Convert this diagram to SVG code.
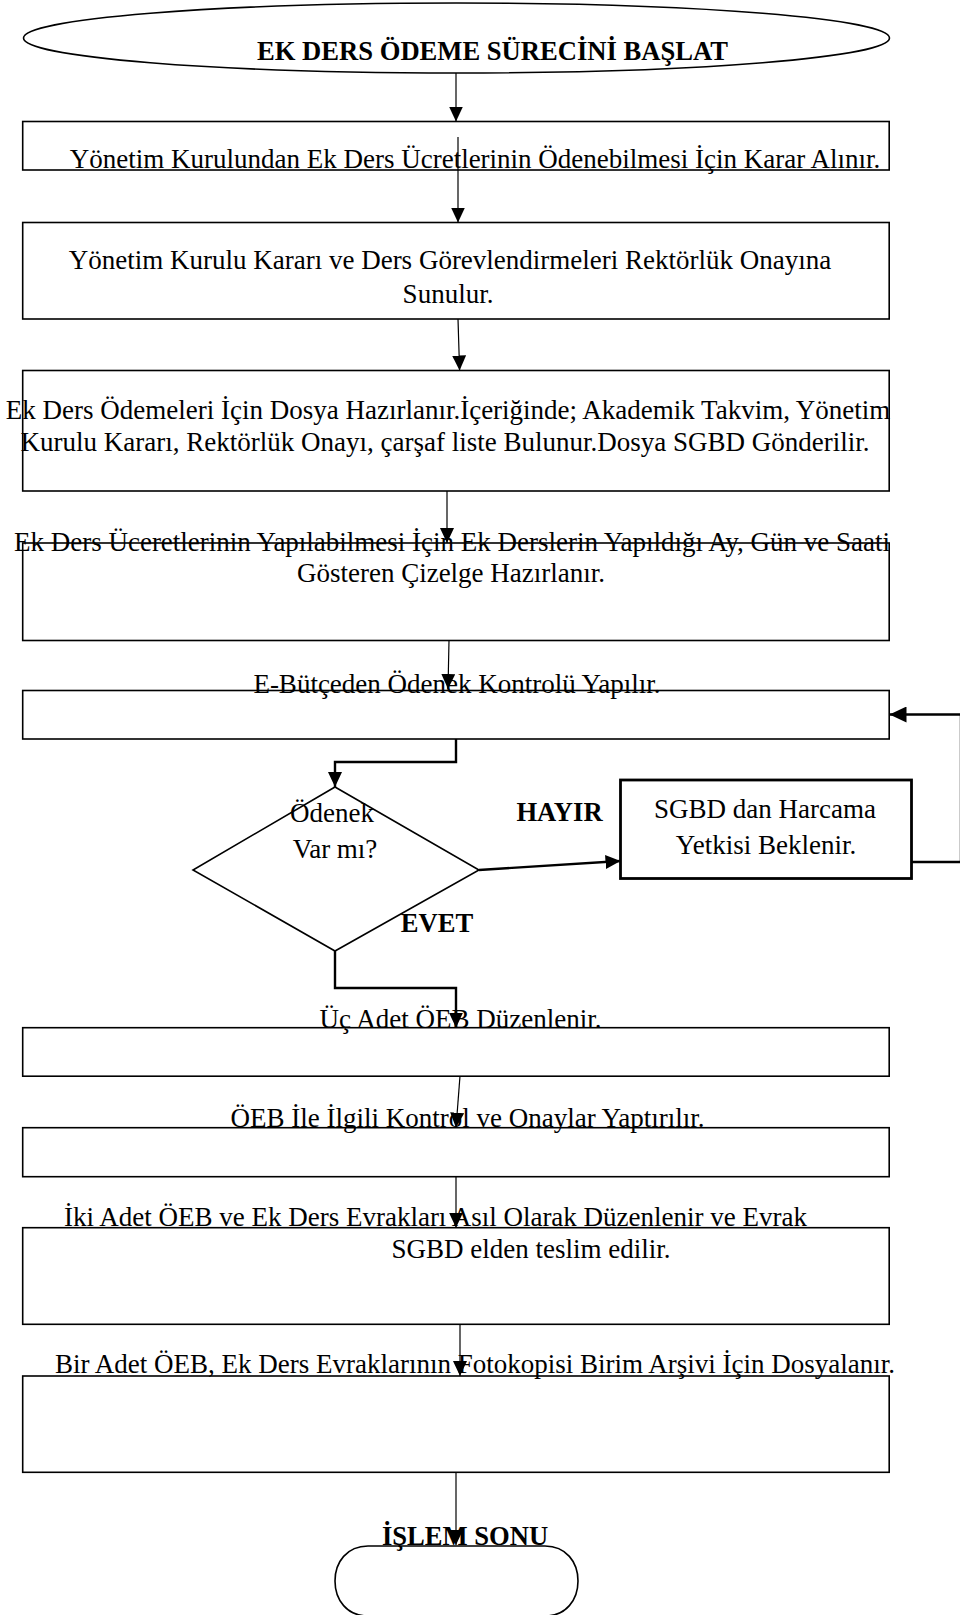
<svg xmlns="http://www.w3.org/2000/svg" width="960" height="1615" viewBox="0 0 960 1615">
<style>
text{font-family:"Liberation Serif","Times New Roman",serif;font-size:27px;fill:#000}
.b{font-weight:bold;font-size:26.6px}
.m{text-anchor:middle}
.box{fill:#fff;stroke:#000;stroke-width:1.6}
.thin{fill:none;stroke:#000;stroke-width:1.2}
.thick{fill:none;stroke:#000;stroke-width:2.4}
</style>
<defs>
<marker id="ah" markerUnits="userSpaceOnUse" markerWidth="16" markerHeight="14" refX="15" refY="7" orient="auto"><path d="M0,0 L15,7 L0,14 Z" fill="#000"/></marker>
<marker id="ahb" markerUnits="userSpaceOnUse" markerWidth="18" markerHeight="16" refX="17" refY="8" orient="auto"><path d="M0,0 L17,8 L0,16 Z" fill="#000"/></marker>
</defs>
<g id="start"><ellipse cx="456.5" cy="38" rx="433" ry="35" class="box"/><text class="b m" x="492.5" y="60">EK DERS ÖDEME SÜRECİNİ BAŞLAT</text></g>
<g id="n1"><rect x="22.7" y="121.5" width="866.5" height="48.5" class="box"/><text class="m" x="475" y="168">Yönetim Kurulundan Ek Ders Ücretlerinin Ödenebilmesi İçin Karar Alınır.</text></g>
<g id="n2"><rect x="22.7" y="222.5" width="866.5" height="96.5" class="box"/><text class="m" x="450" y="269">Yönetim Kurulu Kararı ve Ders Görevlendirmeleri Rektörlük Onayına</text><text class="m" x="448" y="302.5">Sunulur.</text></g>
<g id="n3"><rect x="22.7" y="370.5" width="866.5" height="120.5" class="box"/><text class="m" x="448" y="419">Ek Ders Ödemeleri İçin Dosya Hazırlanır.İçeriğinde; Akademik Takvim, Yönetim</text><text class="m" x="445" y="451">Kurulu Kararı, Rektörlük Onayı, çarşaf liste Bulunur.Dosya SGBD Gönderilir.</text></g>
<g id="n4"><rect x="22.7" y="543" width="866.5" height="97.5" class="box"/><text class="m" x="452" y="551">Ek Ders Üceretlerinin Yapılabilmesi İçin Ek Derslerin Yapıldığı Ay, Gün ve Saati</text><text class="m" x="451" y="582">Gösteren Çizelge Hazırlanır.</text></g>
<g id="n5"><rect x="22.7" y="690.5" width="866.5" height="48.5" class="box"/><text class="m" x="457" y="693">E-Bütçeden Ödenek Kontrolü Yapılır.</text></g>
<g id="d1"><path d="M335,787 L479,870 L335,951 L193,870 Z" class="box"/><text class="m" x="332" y="822">Ödenek</text><text class="m" x="335" y="858">Var mı?</text></g>
<g id="n6"><rect x="620.5" y="780" width="291" height="98.5" fill="#fff" stroke="#000" stroke-width="2.8"/><text class="m" x="765" y="818">SGBD dan Harcama</text><text class="m" x="766" y="854">Yetkisi Beklenir.</text></g>
<g id="n7"><rect x="22.7" y="1027.7" width="866.5" height="48.5" class="box"/><text class="m" x="460.5" y="1028">Üç Adet ÖEB Düzenlenir.</text></g>
<g id="n8"><rect x="22.7" y="1127.7" width="866.5" height="49" class="box"/><text class="m" x="467.5" y="1127">ÖEB İle İlgili Kontrol ve Onaylar Yaptırılır.</text></g>
<g id="n9"><rect x="22.7" y="1227.7" width="866.5" height="96.6" class="box"/><text class="m" x="435.5" y="1226">İki Adet ÖEB ve Ek Ders Evrakları Asıl Olarak Düzenlenir ve Evrak</text><text class="m" x="531" y="1258">SGBD elden teslim edilir.</text></g>
<g id="n10"><rect x="22.7" y="1376" width="866.5" height="96.3" class="box"/><text class="m" x="475" y="1373">Bir Adet ÖEB, Ek Ders Evraklarının Fotokopisi Birim Arşivi İçin Dosyalanır.</text></g>
<g id="end"><path d="M368,1546 H545 C566,1546 578,1562 578,1581 C578,1600 566,1616 545,1616 H368 C347,1616 335,1600 335,1581 C335,1562 347,1546 368,1546 Z" class="box"/><text class="b m" x="465" y="1545">İŞLEM SONU</text></g>
<g id="labels"><text class="b m" x="559.5" y="821">HAYIR</text><text class="b m" x="437" y="932">EVET</text></g>
<g id="connectors">
<path d="M456,73 L456,121.5" class="thin" marker-end="url(#ah)"/>
<path d="M458,137 L458,222.5" class="thin" marker-end="url(#ah)"/>
<path d="M458,319 L459.6,370.5" class="thin" marker-end="url(#ah)"/>
<path d="M447,491 L447,543" class="thin" marker-end="url(#ah)"/>
<path d="M449,640.5 L448,689" class="thin" marker-end="url(#ah)"/>
<path d="M456,739 L456,762 L335,762 L335,787" class="thick" marker-end="url(#ah)"/>
<path d="M479,870 L620.5,861" class="thick" marker-end="url(#ah)"/>
<path d="M911.5,862 L961,862 L961,714.5 L889.5,714.5" class="thick" marker-end="url(#ahb)"/>
<path d="M335,951 L335,988 L456,988 L456,1027.7" class="thick" marker-end="url(#ah)"/>
<path d="M460,1076 L456,1127.7" class="thin" marker-end="url(#ah)"/>
<path d="M456,1177 L456,1227.7" class="thin" marker-end="url(#ah)"/>
<path d="M460,1324.3 L460,1376" class="thin" marker-end="url(#ah)"/>
<path d="M456,1472.3 L456,1545" class="thin" marker-end="url(#ah)"/>
</g>
</svg>
